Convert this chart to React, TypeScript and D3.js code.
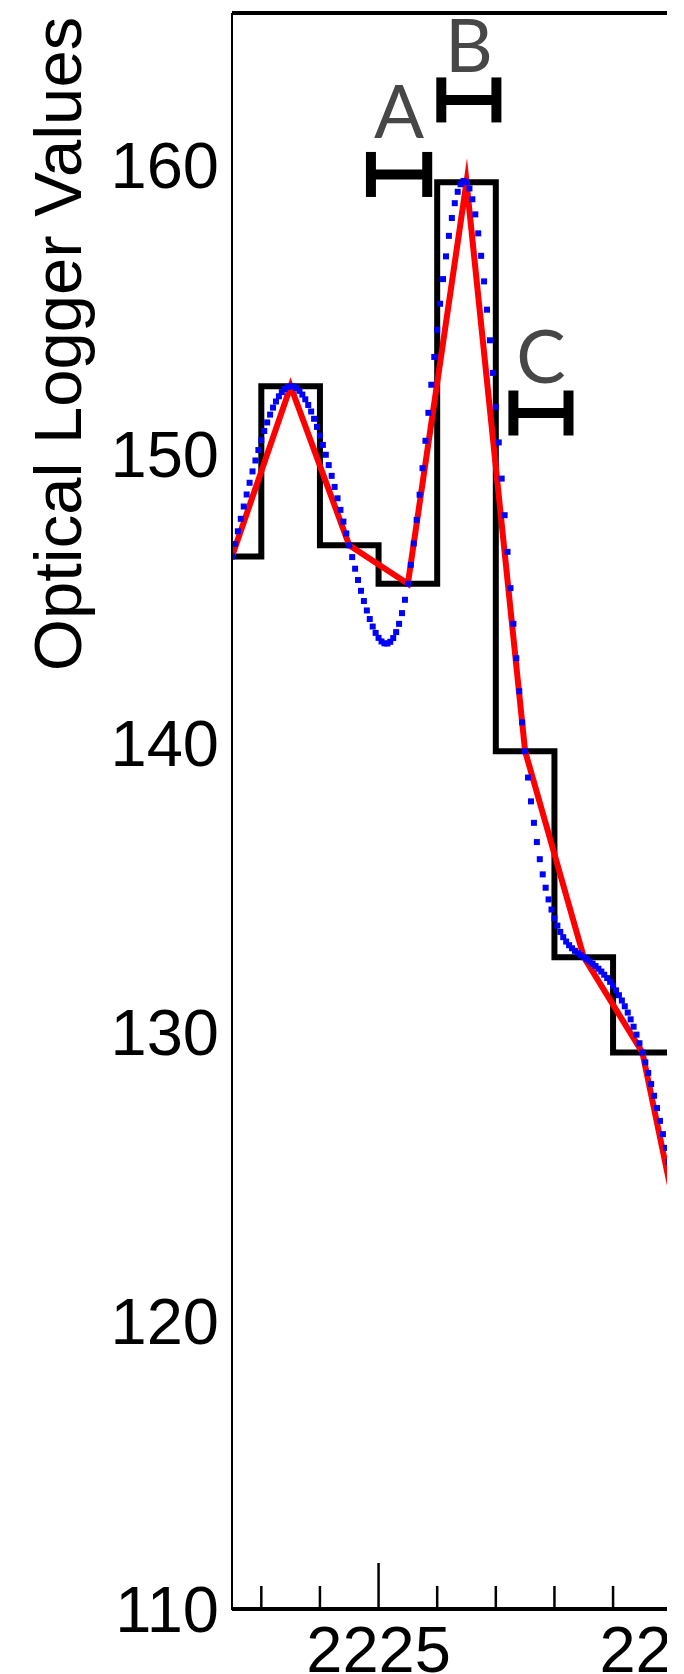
import React from 'react';
import * as d3 from 'd3';

// Bin centres (x) and optical logger values
const binCenters = [2222.5, 2223.5, 2224.5, 2225.5, 2226.5, 2227.5, 2228.5, 2229.5, 2230.5];
const loggerValues = [146.44, 152.34, 146.83, 145.5, 159.4, 139.7, 132.57, 129.27, 119.5];

// Axis ticks
const yTicks = [110, 120, 130, 140, 150, 160];
const xMinorTicks = [2223, 2224, 2226, 2227, 2228, 2229];
const xMajorTicks = [2225, 2230];

// Horizontal range markers A, B, C
const markerLabels = ['A', 'B', 'C'];
const markerCenters = [2225.35, 2226.54, 2227.77];
const markerHalfWidths = [0.48, 0.47, 0.47];
const markerValues = [159.67, 162.25, 151.41];
const markerLabelValues = [160.93, 163.22, 152.45];

const sampleStep = 0.05;

export default function App() {
  const W = 667;
  const H = 1674;
  const left = 232, right = 667, top = 13, bottom = 1609;
  const x = d3.scaleLinear().domain([2222.5, 2229.92]).range([left, right]);
  const y = d3.scaleLinear().domain([110, 165.26]).range([bottom, top]);

  const pts: [number, number][] = binCenters.map((c, i) => [c, loggerValues[i]]);
  const stepPath = d3.line<[number, number]>().x(d => x(d[0])).y(d => y(d[1])).curve(d3.curveStep)(pts) || '';
  const redPath = d3.line<[number, number]>().x(d => x(d[0])).y(d => y(d[1]))(pts) || '';

  // capture natural-spline bezier segments from d3.curveNatural
  const segs: number[][] = [];
  let cx = 0, cy = 0;
  const ctx: any = {
    moveTo(a: number, b: number) { cx = a; cy = b; },
    lineTo(a: number, b: number) {
      segs.push([cx, cy, (2 * cx + a) / 3, (2 * cy + b) / 3, (cx + 2 * a) / 3, (cy + 2 * b) / 3, a, b]);
      cx = a; cy = b;
    },
    bezierCurveTo(x1: number, y1: number, x2: number, y2: number, a: number, b: number) {
      segs.push([cx, cy, x1, y1, x2, y2, a, b]);
      cx = a; cy = b;
    },
    closePath() {},
  };
  d3.line<[number, number]>().x(d => x(d[0])).y(d => y(d[1])).curve(d3.curveNatural).context(ctx)(pts);

  const dots: [number, number][] = [];
  d3.range(binCenters[0], binCenters[binCenters.length - 1] + 1e-9, sampleStep).forEach(v => {
    const px = x(v);
    const s = segs.find(sg => px >= sg[0] - 1e-6 && px <= sg[6] + 1e-6);
    if (!s) return;
    const t = (px - s[0]) / (s[6] - s[0]);
    const u = 1 - t;
    const py = u * u * u * s[1] + 3 * u * u * t * s[3] + 3 * u * t * t * s[5] + t * t * t * s[7];
    dots.push([px, py]);
  });

  const font = '"Liberation Sans", Arial, Helvetica, sans-serif';
  const dot = 6;

  return (
    <svg width={W} height={H} style={{ position: 'absolute', left: 0, top: 0, background: '#fff' }}>
      <defs>
        <clipPath id="plot">
          <rect x={left} y={top} width={right - left} height={bottom - top} />
        </clipPath>
      </defs>
      <rect x={0} y={0} width={W} height={H} fill="#fff" />

      {/* y axis label */}
      <text transform={`translate(57,344) rotate(-90)`} textAnchor="middle" dominantBaseline="central"
        fontFamily={font} fontSize={67} fill="#000">Optical Logger Values</text>

      {/* y tick labels */}
      {yTicks.map(t => (
        <text key={t} x={219} y={y(t)} dy="0.36em" textAnchor="end" fontFamily={font} fontSize={65} fill="#000">{t}</text>
      ))}

      {/* x tick labels */}
      {xMajorTicks.map(t => (
        <text key={t} x={x(t)} y={1672} textAnchor="middle" fontFamily={font} fontSize={65} fill="#000">{t}</text>
      ))}

      <g clipPath="url(#plot)">
        <path d={stepPath} fill="none" stroke="#000" strokeWidth={6} strokeLinejoin="miter" />
        <path d={redPath} fill="none" stroke="#ff0000" strokeWidth={6} strokeLinejoin="miter" strokeMiterlimit={20} />
        {dots.map((d, i) => (
          <rect key={i} x={d[0] - dot / 2} y={d[1] - dot / 2} width={dot} height={dot} fill="#0000ff" />
        ))}
      </g>

      {/* axes */}
      <line x1={left} x2={left} y1={top} y2={bottom + 1} stroke="#000" strokeWidth={2} />
      <line x1={left} x2={right} y1={top} y2={top} stroke="#000" strokeWidth={4} />
      <line x1={left} x2={right} y1={bottom} y2={bottom} stroke="#000" strokeWidth={4} />
      {xMinorTicks.map(t => (
        <line key={t} x1={x(t)} x2={x(t)} y1={bottom} y2={bottom - 23} stroke="#000" strokeWidth={2.5} />
      ))}
      {xMajorTicks.filter(t => x(t) >= left && x(t) <= right).map(t => (
        <line key={t} x1={x(t)} x2={x(t)} y1={bottom} y2={bottom - 46} stroke="#000" strokeWidth={2.5} />
      ))}

      {/* markers */}
      {markerLabels.map((lab, i) => {
        const x0 = x(markerCenters[i] - markerHalfWidths[i]);
        const x1 = x(markerCenters[i] + markerHalfWidths[i]);
        const yy = y(markerValues[i]);
        return (
          <g key={lab}>
            <line x1={x0} x2={x1} y1={yy} y2={yy} stroke="#000" strokeWidth={10} />
            <line x1={x0} x2={x0} y1={yy - 22.5} y2={yy + 22.5} stroke="#000" strokeWidth={10} />
            <line x1={x1} x2={x1} y1={yy - 22.5} y2={yy + 22.5} stroke="#000" strokeWidth={10} />
            <text x={x(markerCenters[i])} y={y(markerLabelValues[i])} textAnchor="middle"
              fontFamily="Lato, 'Open Sans', sans-serif" fontWeight={400} fontSize={74} fill="#474747">{lab}</text>
          </g>
        );
      })}
    </svg>
  );
}
